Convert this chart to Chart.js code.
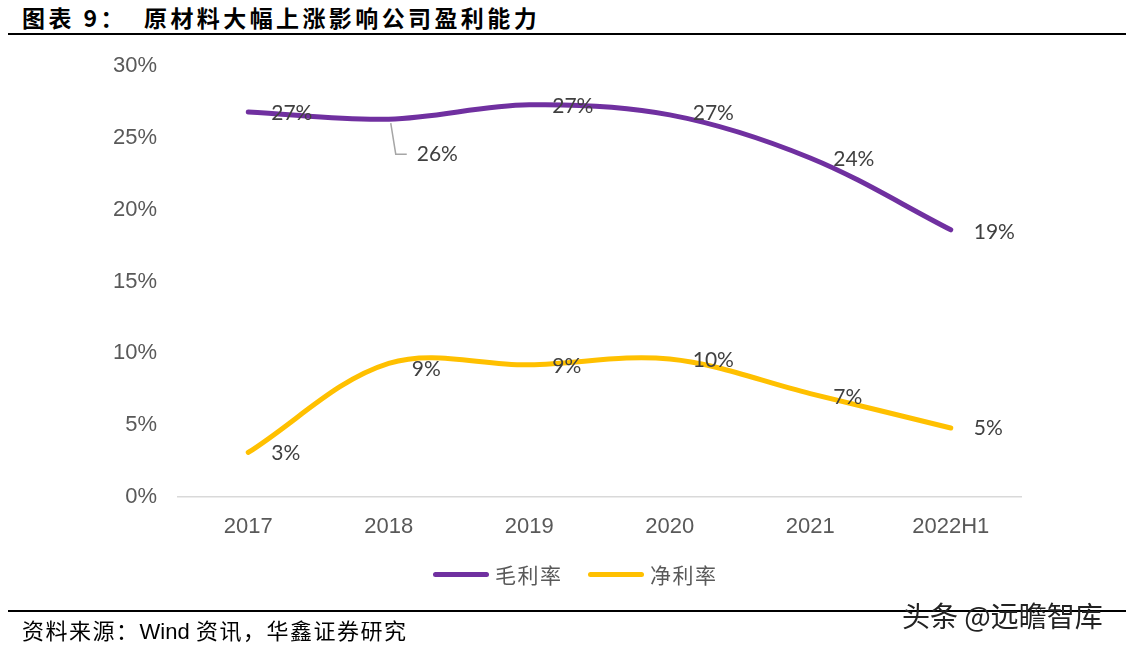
<!DOCTYPE html>
<html>
<head>
<meta charset="utf-8">
<script src="https://cdn.jsdelivr.net/npm/chart.js@4/dist/chart.umd.min.js"></script>
<style>
  html, body { margin:0; padding:0; background:#fff; }
  #wrap { position:relative; width:1126px; height:650px; overflow:hidden; background:#fff; }
  #c { position:absolute; left:0; top:0; }
  .title { position:absolute; left:22px; top:2px; font-family:"Noto Sans CJK SC"; font-weight:bold; font-size:23px; letter-spacing:3.4px; color:#000; line-height:30px; white-space:nowrap; }
  .rule { position:absolute; left:8px; right:0; height:2px; background:#000; }
  .src { position:absolute; left:22px; top:615px; font-family:"Noto Sans CJK SC"; font-size:22px; color:#000; line-height:28px; white-space:nowrap; letter-spacing:1.5px; }
  .src .en { font-family:"Liberation Sans"; letter-spacing:0; }
  .wm { position:absolute; left:902px; top:598px; font-family:"Noto Sans CJK SC"; font-size:28px; color:#222; line-height:34px; white-space:nowrap; }
  .legend { position:absolute; top:562px; left:0; width:1126px; height:26px; }
  .litem { position:absolute; top:0; height:26px; }
  .lline { position:absolute; top:10px; width:56px; height:5px; border-radius:3px; }
  .ltext { position:absolute; left:62px; top:-2px; font-family:"Noto Sans CJK SC"; font-size:21px; color:#595959; white-space:nowrap; line-height:28px; letter-spacing:1.5px; }
</style>
</head>
<body>
<div id="wrap">
  <div class="title">图表 9：&nbsp; 原材料大幅上涨影响公司盈利能力</div>
  <div class="rule" style="top:33px;"></div>
  <canvas id="c" width="1126" height="650"></canvas>
  <div class="legend" id="legend"></div>
  <div class="rule" style="top:610px;"></div>
  <div class="src">资料来源：<span class="en">Wind</span> 资讯，华鑫证券研究</div>
  <div class="wm">头条 @远瞻智库</div>
</div>
<script>
// ---- data ----
const categories = ["2017", "2018", "2019", "2020", "2021", "2022H1"];
const grossMargin = [26.8, 26.3, 27.3, 26.6, 23.6, 18.6];   // 毛利率 (%)
const netMargin   = [3.1, 9.3, 9.2, 9.6, 7.2, 4.8];         // 净利率 (%)
const yTicks = [0, 5, 10, 15, 20, 25, 30];
const seriesNames = ["毛利率", "净利率"];
const seriesColors = ["#7030A0", "#FFC000"];

// label vertical offsets per point (style only)
const labelDy = [
  [1, 35, 1, -2, 1, 2],
  [1, 6, 1, 1, 4, 0]
];

const labelPlugin = {
  id: 'pctLabels',
  afterDatasetsDraw(chart) {
    const ctx = chart.ctx;
    ctx.save();
    ctx.font = '21px Lato';
    ctx.fillStyle = '#404040';
    ctx.textAlign = 'left';
    ctx.textBaseline = 'middle';
    chart.data.datasets.forEach((ds, di) => {
      const meta = chart.getDatasetMeta(di);
      meta.data.forEach((pt, i) => {
        const v = ds.data[i];
        const txt = Math.round(v) + '%';
        const x = pt.x + 23;
        const y = pt.y + labelDy[di][i];
        if (di === 0 && i === 1) {
          ctx.save();
          ctx.strokeStyle = '#a6a6a6';
          ctx.lineWidth = 1.5;
          ctx.beginPath();
          ctx.moveTo(pt.x + 2, pt.y + 4);
          ctx.lineTo(pt.x + 7, y);
          ctx.lineTo(pt.x + 18, y);
          ctx.stroke();
          ctx.restore();
          ctx.fillText(txt, pt.x + 28, y);
        } else {
          ctx.fillText(txt, x, y);
        }
      });
    });
    ctx.restore();
  }
};

const chart = new Chart(document.getElementById('c'), {
  type: 'line',
  data: {
    labels: categories,
    datasets: [
      { label: seriesNames[0], data: grossMargin, borderColor: seriesColors[0], backgroundColor: seriesColors[0],
        borderWidth: 5, borderCapStyle: 'round', borderJoinStyle: 'round', tension: 0.35, pointRadius: 0, pointHoverRadius: 0, fill: false },
      { label: seriesNames[1], data: netMargin, borderColor: seriesColors[1], backgroundColor: seriesColors[1],
        borderWidth: 5, borderCapStyle: 'round', borderJoinStyle: 'round', tension: 0.35, pointRadius: 0, pointHoverRadius: 0, fill: false }
    ]
  },
  options: {
    responsive: false,
    animation: false,
    layout: { padding: { top: 66, right: 105, bottom: 0, left: 0 } },
    plugins: { legend: { display: false }, tooltip: { enabled: false } },
    scales: {
      x: {
        type: 'category',
        offset: true,
        grid: { display: false, drawTicks: false },
        border: { display: true, color: '#d9d9d9', width: 1.5 },
        ticks: { color: '#595959', font: { family: 'Liberation Sans', size: 22 }, padding: 17, maxRotation: 0 },
        afterFit(s) { s.height = 153; }
      },
      y: {
        min: 0, max: 30,
        afterBuildTicks(s) { s.ticks = yTicks.map(v => ({ value: v })); },
        grid: { display: false, drawTicks: false },
        border: { display: false },
        ticks: { color: '#595959', font: { family: 'Liberation Sans', size: 22 }, padding: 21, callback: v => v + '%' },
        afterFit(s) { s.width = 178; }
      }
    }
  },
  plugins: [labelPlugin]
});

// HTML legend built from series
const leg = document.getElementById('legend');
const lefts = [433, 588];
seriesNames.forEach((n, i) => {
  const it = document.createElement('div');
  it.className = 'litem';
  it.style.left = lefts[i] + 'px';
  const ln = document.createElement('div');
  ln.className = 'lline';
  ln.style.background = seriesColors[i];
  const tx = document.createElement('div');
  tx.className = 'ltext';
  tx.textContent = n;
  it.appendChild(ln); it.appendChild(tx);
  leg.appendChild(it);
});
</script>
</body>
</html>
